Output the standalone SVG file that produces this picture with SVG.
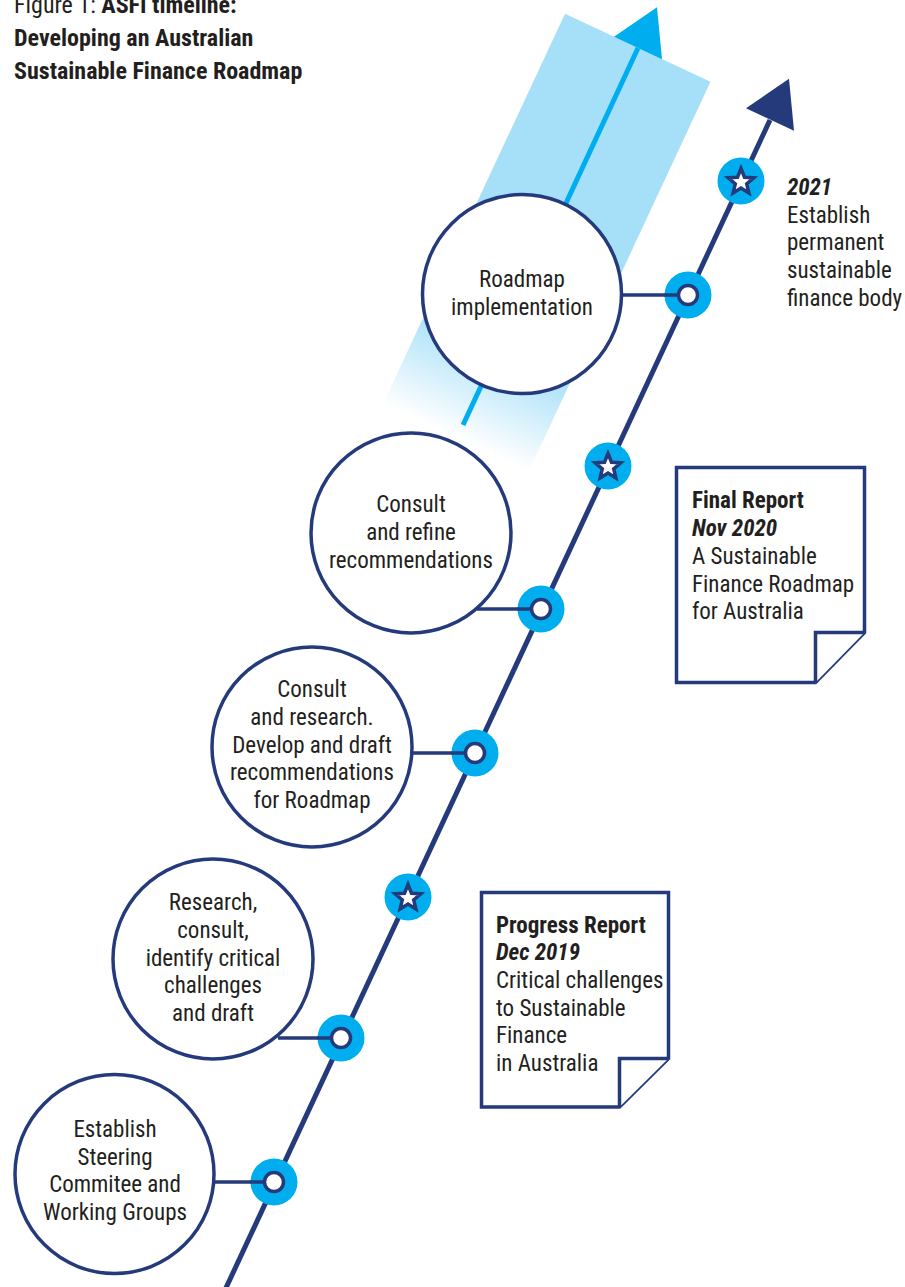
<svg xmlns="http://www.w3.org/2000/svg" xmlns:xlink="http://www.w3.org/1999/xlink" width="905" height="1287" viewBox="0 0 905 1287">
<style>
.t{font-family:"Liberation Sans Narrow","Roboto Condensed","Liberation Sans",sans-serif;font-size:23px;fill:#231f20}
.h{font-size:24px}
.c{text-anchor:middle}
.b{font-weight:bold}
.bi{font-weight:bold;font-style:italic}
.node{fill:#fff;stroke:#243a7b;stroke-width:3.5}
.doc{fill:#fff;stroke:#243a7b;stroke-width:3.5;stroke-linejoin:miter}
.conn{stroke:#243a7b;stroke-width:3.5;fill:none}
.ring{fill:#00aeef}
.dot{fill:#fff;stroke:#243a7b;stroke-width:3.5}
.star{fill:#fff;stroke:#243a7b;stroke-width:3.5;stroke-linejoin:miter}
</style>
<defs>
<linearGradient id="fade" gradientUnits="userSpaceOnUse" x1="637.5" y1="47.5" x2="455.7" y2="437.2">
<stop offset="0" stop-color="#a6dff8" stop-opacity="1"/>
<stop offset="0.76" stop-color="#a6dff8" stop-opacity="1"/>
<stop offset="1" stop-color="#a6dff8" stop-opacity="0"/>
</linearGradient>
<polygon id="starshape" class="star" points="0,-13.5 3.5,-4.8 12.8,-4.2 5.7,1.85 7.9,10.9 0,6 -7.9,10.9 -5.7,1.85 -12.8,-4.2 -3.5,-4.8"/>
</defs>

<g id="title">
<text class="t h" x="14" y="13"><tspan>Figure 1: </tspan><tspan class="b">ASFI timeline:</tspan></text>
<text class="t h b" x="14" y="46">Developing an Australian</text>
<text class="t h b" x="14" y="79">Sustainable Finance Roadmap</text>
</g>

<g id="future-band">
<polygon points="565,13.7 710.5,81.8 528.7,471.5 383.2,403.4" fill="url(#fade)"/>
<polygon points="657,7.2 614,36.8 662,59.2" fill="#00aeef"/>
<line x1="638" y1="48" x2="463" y2="425" stroke="#00aeef" stroke-width="5"/>
</g>

<g id="connectors">
<line id="timeline" x1="225" y1="1290" x2="770" y2="120" stroke="#243a7b" stroke-width="5"/>
<polygon id="timeline-head" points="789,78.7 746,108.3 794,130.7" fill="#243a7b"/>
<line class="conn" x1="213" y1="1182" x2="274" y2="1182"/>
<line class="conn" x1="278" y1="1038" x2="341" y2="1038"/>
<line class="conn" x1="412" y1="753" x2="475" y2="753"/>
<line class="conn" x1="477" y1="609" x2="541" y2="609"/>
<line class="conn" x1="622" y1="295" x2="688" y2="295"/>
</g>

<g id="markers">
<g id="m1"><circle cx="274" cy="1182" r="23.5" class="ring"/><line class="conn" x1="250" y1="1182" x2="274" y2="1182"/><circle cx="274" cy="1182" r="9.5" class="dot"/></g>
<g id="m2"><circle cx="341" cy="1038" r="23.5" class="ring"/><line class="conn" x1="317" y1="1038" x2="341" y2="1038"/><circle cx="341" cy="1038" r="9.5" class="dot"/></g>
<g id="m3"><circle cx="475" cy="753" r="23.5" class="ring"/><line class="conn" x1="451" y1="753" x2="475" y2="753"/><circle cx="475" cy="753" r="9.5" class="dot"/></g>
<g id="m4"><circle cx="541" cy="609" r="23.5" class="ring"/><line class="conn" x1="517" y1="609" x2="541" y2="609"/><circle cx="541" cy="609" r="9.5" class="dot"/></g>
<g id="m5"><circle cx="688" cy="295" r="23.5" class="ring"/><line class="conn" x1="664" y1="295" x2="688" y2="295"/><circle cx="688" cy="295" r="9.5" class="dot"/></g>
<g id="s1"><circle cx="408" cy="897" r="23.5" class="ring"/><use xlink:href="#starshape" href="#starshape" x="408" y="898"/></g>
<g id="s2"><circle cx="608" cy="466" r="23.5" class="ring"/><use xlink:href="#starshape" href="#starshape" x="608" y="467"/></g>
<g id="s3"><circle cx="741" cy="181" r="23.5" class="ring"/><use xlink:href="#starshape" href="#starshape" x="741" y="182"/></g>
</g>

<g id="node-roadmap">
<circle class="node" cx="522" cy="294" r="99.5"/>
<text class="t c" x="522" y="287">Roadmap</text>
<text class="t c" x="522" y="315">implementation</text>
</g>

<g id="node-refine">
<circle class="node" cx="411" cy="533" r="100"/>
<text class="t c" x="411" y="512">Consult</text>
<text class="t c" x="411" y="540">and refine</text>
<text class="t c" x="411" y="568">recommendations</text>
</g>

<g id="node-research">
<circle class="node" cx="312" cy="747" r="100"/>
<text class="t c" x="312" y="697">Consult</text>
<text class="t c" x="312" y="725">and research.</text>
<text class="t c" x="312" y="753">Develop and draft</text>
<text class="t c" x="312" y="780">recommendations</text>
<text class="t c" x="312" y="808">for Roadmap</text>
</g>

<g id="node-identify">
<circle class="node" cx="213" cy="959" r="100"/>
<text class="t c" x="213" y="910">Research,</text>
<text class="t c" x="213" y="938">consult,</text>
<text class="t c" x="213" y="966">identify critical</text>
<text class="t c" x="213" y="993">challenges</text>
<text class="t c" x="213" y="1021">and draft</text>
</g>

<g id="node-establish">
<circle class="node" cx="114.5" cy="1174" r="99.5"/>
<text class="t c" x="115" y="1137">Establish</text>
<text class="t c" x="115" y="1165">Steering</text>
<text class="t c" x="115" y="1192">Commitee and</text>
<text class="t c" x="115" y="1220">Working Groups</text>
</g>

<g id="milestone-2021">
<text class="t bi" x="787" y="195">2021</text>
<text class="t" x="787" y="223">Establish</text>
<text class="t" x="787" y="250">permanent</text>
<text class="t" x="787" y="278">sustainable</text>
<text class="t" x="787" y="306">finance body</text>
</g>

<g id="doc-final">
<path class="doc" d="M676.5,467.5 H864.5 V632.5 L815.5,682.5 H676.5 Z"/>
<path class="doc" d="M815.5,682.5 V632.5 H864.5"/>
<text class="t b" x="692" y="508">Final Report</text>
<text class="t bi" x="692" y="536">Nov 2020</text>
<text class="t" x="692" y="564">A Sustainable</text>
<text class="t" x="692" y="592">Finance Roadmap</text>
<text class="t" x="692" y="619">for Australia</text>
</g>

<g id="doc-progress">
<path class="doc" d="M481.5,892.5 H668.5 V1058.5 L619.5,1107 H481.5 Z"/>
<path class="doc" d="M619.5,1107 V1058.5 H668.5"/>
<text class="t b" x="496" y="933">Progress Report</text>
<text class="t bi" x="496" y="960">Dec 2019</text>
<text class="t" x="496" y="988">Critical challenges</text>
<text class="t" x="496" y="1016">to Sustainable</text>
<text class="t" x="496" y="1043">Finance</text>
<text class="t" x="496" y="1071">in Australia</text>
</g>
</svg>
